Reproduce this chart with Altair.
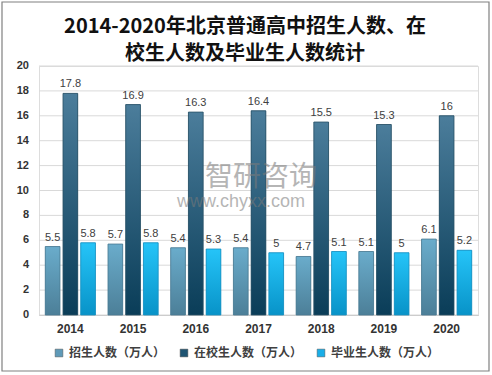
import altair as alt
import pandas as pd

years = ["2014", "2015", "2016", "2017", "2018", "2019", "2020"]
series = ["招生人数（万人）", "在校生人数（万人）", "毕业生人数（万人）"]
enroll = [5.5, 5.7, 5.4, 5.4, 4.7, 5.1, 6.1]
students = [17.8, 16.9, 16.3, 16.4, 15.5, 15.3, 16.0]
graduates = [5.8, 5.8, 5.3, 5.0, 5.1, 5.0, 5.2]
y_ticks = [0, 2, 4, 6, 8, 10, 12, 14, 16, 18, 20]
title_lines = ["2014-2020年北京普通高中招生人数、在", "校生人数及毕业生人数统计"]

solid = ["#5f9ab8", "#1f5573", "#19aee8"]
grad_stops = [("#6aaccb", "#4c7f98"), ("#4b7d9b", "#0a3d58"), ("#25c4f8", "#0893c8")]
strokes = ["#4a7a92", "#2a5066", "#1a8fbf"]

rows = []
for vals, s in zip([enroll, students, graduates], series):
    for y, v in zip(years, vals):
        rows.append({"year": y, "series": s, "value": v, "label": f"{v:g}"})
df = pd.DataFrame(rows)
ticks_df = pd.DataFrame({"value": y_ticks, "label": [str(t) for t in y_ticks]})

FONT = "'Liberation Sans', 'Noto Sans CJK SC', sans-serif"
W, H = 439, 249

x_enc = alt.X("year:N", sort=years, title=None,
              scale=alt.Scale(paddingInner=0.2, paddingOuter=0.1),
              axis=alt.Axis(labelAngle=0, labelFontSize=12, labelFontWeight="bold",
                            labelColor="#333333", labelFont=FONT, ticks=False,
                            domainColor="#bfbfbf", labelPadding=8))
xo_enc = alt.XOffset("series:N", sort=series,
                     scale=alt.Scale(domain=series, paddingInner=0.17, paddingOuter=0))
y_enc = alt.Y("value:Q", title=None, scale=alt.Scale(domain=[0, 20]), axis=None)

# gridlines and y tick labels drawn from the tick list through the shared y scale
grid = alt.Chart(ticks_df).mark_rule(color="#d9d9d9", strokeWidth=1).encode(
    y=y_enc, x=alt.value(0), x2=alt.value(W))
ylabels = alt.Chart(ticks_df).mark_text(align="right", baseline="middle", dx=-10,
                                        fontSize=11, fontWeight="bold", color="#333333",
                                        font=FONT).encode(
    y=y_enc, x=alt.value(0), text="label:N")

base = alt.Chart(df).mark_bar().encode(
    x=x_enc, xOffset=xo_enc, y=y_enc,
    color=alt.Color("series:N", sort=series,
                    scale=alt.Scale(domain=series, range=solid),
                    legend=alt.Legend(title=None, orient="none", direction="horizontal",
                                      legendX=14, legendY=281, symbolType="square",
                                      symbolSize=60, labelFontSize=12,
                                      labelFontWeight="bold", labelColor="#404040",
                                      labelFont=FONT, columnPadding=12,
                                      symbolStrokeColor="#555555", symbolStrokeWidth=0.5))
)

layers = [grid, ylabels, base]
for s, (top, bot), st in zip(series, grad_stops, strokes):
    g = alt.Gradient(gradient="linear",
                     stops=[alt.GradientStop(color=top, offset=0),
                            alt.GradientStop(color=bot, offset=1)],
                     x1=0, x2=0, y1=0, y2=1)
    layers.append(
        alt.Chart(df[df["series"] == s]).mark_bar(fill=g, stroke=st, strokeWidth=0.8).encode(
            x=x_enc, xOffset=xo_enc, y=y_enc)
    )

labels = alt.Chart(df).mark_text(dy=-9, fontSize=11, color="#404040", font=FONT).encode(
    x=x_enc, xOffset=xo_enc, y=y_enc, text="label:N")
layers.append(labels)

one = pd.DataFrame({"a": [0]})
wm1 = alt.Chart(one).mark_text(text="智研咨询", fontSize=28, color="#7a7a7a", opacity=0.55,
                               font="'Noto Sans CJK SC'", align="left").encode(
    x=alt.value(166), y=alt.value(112))
wm2 = alt.Chart(one).mark_text(text="www.chyxx.com", fontSize=18, color="#7a7a7a", opacity=0.55,
                               font=FONT, align="left").encode(
    x=alt.value(138), y=alt.value(136))
border = alt.Chart(one).mark_rect(fill="transparent", stroke="#808080", strokeWidth=1.2).encode(
    x=alt.value(-37), x2=alt.value(450), y=alt.value(-64), y2=alt.value(305))
t1 = alt.Chart(one).mark_text(text=title_lines[0], fontSize=20, fontWeight="bold",
                              font="'Noto Sans CJK SC'", color="#111111",
                              baseline="middle", align="center").encode(
    x=alt.value(206), y=alt.value(-39))
t2 = alt.Chart(one).mark_text(text=title_lines[1], fontSize=20, fontWeight="bold",
                              font="'Noto Sans CJK SC'", color="#111111",
                              baseline="middle", align="center").encode(
    x=alt.value(206), y=alt.value(-12))
layers += [wm1, wm2, border, t1, t2]

chart = alt.layer(*layers).properties(
    width=W, height=H,
    autosize=alt.AutoSizeParams(type="none"),
    padding={"left": 39, "top": 66, "right": 14, "bottom": 60},
).configure_view(stroke=None).configure(background="white")

chart.save("out.html", embed_options={"renderer": "svg", "actions": False})
